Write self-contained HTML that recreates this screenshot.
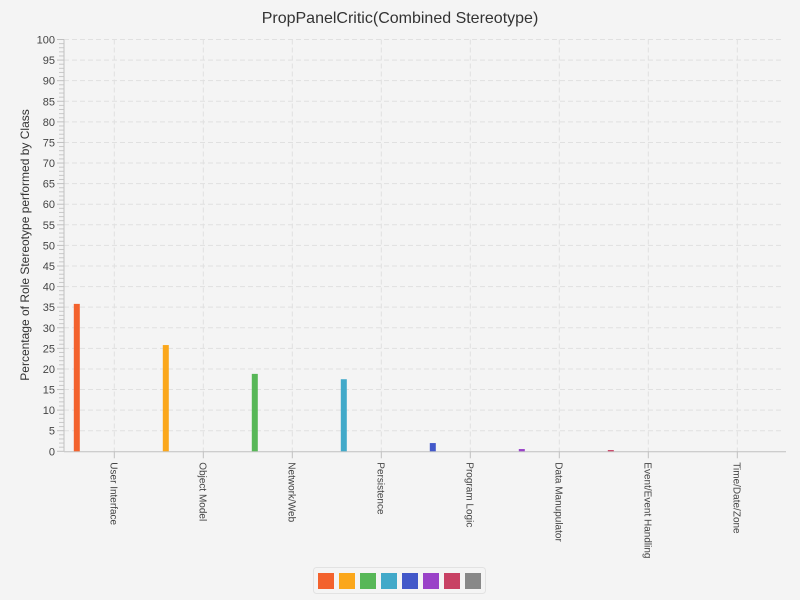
<!DOCTYPE html>
<html><head><meta charset="utf-8"><style>
body{margin:0;background:#f4f4f4;}
svg{display:block;font-family:"Liberation Sans",sans-serif;}
</style></head><body>
<svg id="chart" width="800" height="600">
<text x="400" y="23" text-anchor="middle" font-size="16" fill="#333">PropPanelCritic(Combined Stereotype)</text>
<text transform="translate(29,245) rotate(-90)" text-anchor="middle" font-size="12" fill="#333">Percentage of Role Stereotype performed by Class</text>
<g id="grid"></g><g id="axes"></g><g id="bars"></g>
<g>
<rect x="313.5" y="567.5" width="172" height="26" rx="3" fill="#f4f4f4" stroke="#e2e2e2"/>
<g id="legend"></g></g>
</svg>
<script>
const categories=["User Interface","Object Model","Network/Web","Persistence","Program Logic","Data Manupulator","Event/Event Handling","Time/Date/Zone"];
const values=[35.8,25.8,18.8,17.5,2.0,0.55,0.3,0];
const colors=["#f3622d","#fba71b","#57b757","#41a9c9","#4258c9","#9a42c8","#c84164","#888888"];
const yTicks=[0,5,10,15,20,25,30,35,40,45,50,55,60,65,70,75,80,85,90,95,100];
const NS="http://www.w3.org/2000/svg";
const L=64,R=781,T=39.5,B=451.3,step=89;
const y=v=>B-(v/100)*(B-T);
const xc=i=>114.3+i*step;
function el(tag,attrs,parent){const e=document.createElementNS(NS,tag);for(const k in attrs)e.setAttribute(k,attrs[k]);parent.appendChild(e);return e;}
const grid=document.getElementById('grid'),axes=document.getElementById('axes'),bars=document.getElementById('bars'),leg=document.getElementById('legend');
yTicks.forEach(t=>{
 if(t>0){const g=el('line',{x1:L,x2:R,y1:y(t),y2:y(t),stroke:'#e0e0e0','stroke-dasharray':'5,3'},grid);
 
 }
 el('line',{x1:L-7,x2:L,y1:y(t),y2:y(t),stroke:'#c0c0c0'},axes);
 if(t<100)for(let m=1;m<5;m++){const yy=y(t+m);el('line',{x1:L-5,x2:L,y1:yy,y2:yy,stroke:'#c8c8c8'},axes);}
 const tx=el('text',{x:L-9,y:y(t)+4,'text-anchor':'end','font-size':'11',fill:'#444'},axes);tx.textContent=t;
 
 
});
categories.forEach((c,i)=>{
 const g=el('line',{x1:xc(i),x2:xc(i),y1:T,y2:B,stroke:'#e0e0e0','stroke-dasharray':'5,3'},grid);
 
 
 el('line',{x1:xc(i),x2:xc(i),y1:B,y2:B+7,stroke:'#c0c0c0'},axes);
 const tx=el('text',{transform:`translate(${xc(i)-4},${B+11}) rotate(90)`,'font-size':'10',fill:'#444'},axes);tx.textContent=c;
 
 
 const h=B-y(values[i]);
 if(h>0){const b=el('rect',{x:xc(i)-40.5,y:y(values[i]),width:6,height:h,fill:colors[i]},bars);
 
 }
 const s=el('rect',{x:318+i*21,y:573,width:16,height:16,fill:colors[i]},leg);
 
 
});
el('line',{x1:L,x2:L,y1:T,y2:B,stroke:'#c0c0c0'},axes);
el('line',{x1:L,x2:R+5,y1:B+0.5,y2:B+0.5,stroke:'#c0c0c0'},axes);
</script>
</body></html>
